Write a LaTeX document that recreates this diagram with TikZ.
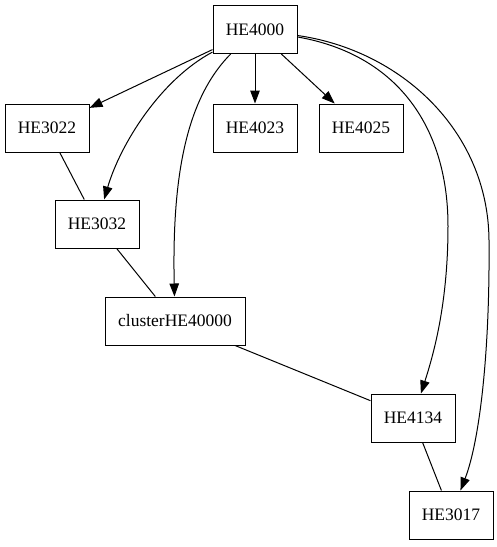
\documentclass[tikz,border=0pt]{standalone}
\usepackage{fontspec}
\setmainfont{Liberation Serif}
\usetikzlibrary{arrows.meta}

\begin{document}
\begin{tikzpicture}[x=1pt, y=-1pt, line width=1pt,
    box/.style={draw, rectangle, minimum width=84pt, minimum height=48pt, inner sep=0pt, font=\fontsize{17.5}{20}\selectfont},
    dep/.style={-{Triangle[length=13pt,width=9.5pt]}}]
  \useasboundingbox (0,0) rectangle (497,547);
  \node[box] (HE4000) at (255,29.5) {HE4000};
  \node[box] (HE3022) at (47,128) {HE3022};
  \node[box] (HE4023) at (255,128) {HE4023};
  \node[box] (HE4025) at (361,128) {HE4025};
  \node[box] (HE3032) at (97,224) {HE3032};
  \node[box, minimum width=140pt] (cluster) at (175,321) {clusterHE40000};
  \node[box] (HE4134) at (413,418) {HE4134};
  \node[box] (HE3017) at (451,515) {HE3017};
  \draw[dep] (HE4000) -- (HE3022);
  \draw[dep] (HE4000) -- (HE4023);
  \draw[dep] (HE4000) -- (HE4025);
  \draw[dep] (HE4000) .. controls (160,80) and (120,145) .. (HE3032);
  \draw[dep] (HE4000) .. controls (185,100) and (172,180) .. (cluster);
  \draw[dep] (HE4000) .. controls (400,55) and (448,130) .. (448,226)
    .. controls (448,300) and (435,350) .. (HE4134);
  \draw[dep] (HE4000) .. controls (400,50) and (488,130) .. (489,240)
    .. controls (490,350) and (480,440) .. (HE3017);
  \draw (HE3022) -- (HE3032);
  \draw (HE3032) -- (cluster);
  \draw (cluster) -- (HE4134);
  \draw (HE4134) -- (HE3017);
\end{tikzpicture}
\end{document}
